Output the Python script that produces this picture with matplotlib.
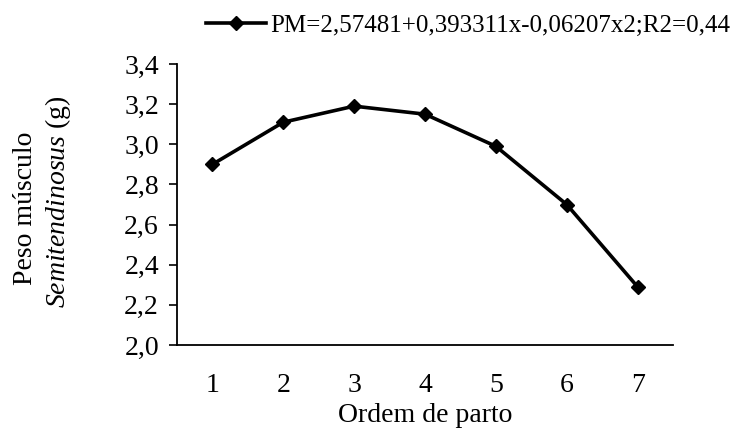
import matplotlib
matplotlib.use("Agg")
import matplotlib.pyplot as plt

ordem = [1, 2, 3, 4, 5, 6, 7]
peso = [2.90, 3.11, 3.19, 3.15, 2.99, 2.70, 2.29]
yticks = [2.0, 2.2, 2.4, 2.6, 2.8, 3.0, 3.2, 3.4]
legend_label = "PM=2,57481+0,393311x-0,06207x2;R2=0,44"

plt.rcParams['font.family'] = ['Liberation Serif', 'DejaVu Serif']
plt.rcParams['mathtext.fontset'] = 'custom'
plt.rcParams['mathtext.rm'] = 'Liberation Serif'
plt.rcParams['mathtext.it'] = 'Liberation Serif:italic'

fig = plt.figure(figsize=(7.32, 4.38), dpi=100)
ax = fig.add_axes([177/732, 1 - 345/438, (673-177)/732, (345-64)/438])

line, = ax.plot(ordem, peso, color='black', lw=2.6, marker='D', markersize=7,
                label=legend_label)
ax.set_xlim(0.5, 7.5)
ax.set_ylim(2.0, 3.4)
ax.set_yticks(yticks)
ax.set_yticklabels([f"{v:.1f}".replace('.', ',') for v in yticks])
ax.set_xticks(ordem)
ax.set_xticklabels([str(v) for v in ordem])
ax.tick_params(axis='x', length=0, labelsize=20, pad=20)
ax.tick_params(axis='y', length=6, width=1.2, labelsize=20, pad=7, direction='out')
for s in ['top', 'right']:
    ax.spines[s].set_visible(False)
for s in ['left', 'bottom']:
    ax.spines[s].set_linewidth(1.3)

ax.set_xlabel("Ordem de parto", fontsize=20, labelpad=4)

fig.text(25/732, 1 - 208/438, "Peso músculo", rotation=90, fontsize=20,
         ha='center', va='center')
fig.text(58/732, 1 - 202/438, r"$\mathit{Semitendinosus}$ (g)", rotation=90,
         fontsize=20, ha='center', va='center')

fig.legend(handles=[line], loc='upper right', bbox_to_anchor=(730/732, 1 - 14/438),
           frameon=False, fontsize=18, handlelength=2.4, handletextpad=0.15,
           borderaxespad=0, borderpad=0)

fig.savefig("out.png", dpi=100)
